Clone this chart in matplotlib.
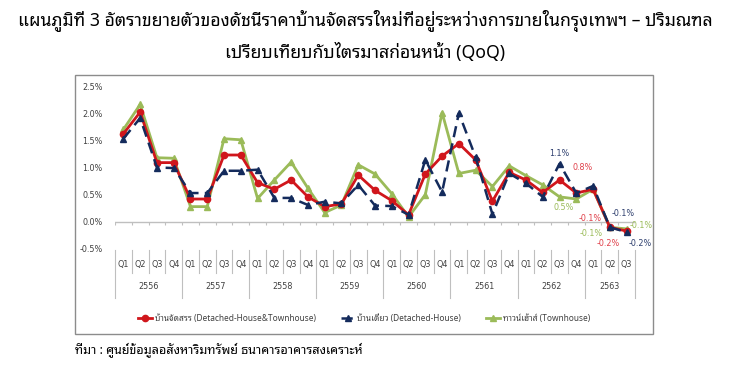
import numpy as np
import matplotlib
matplotlib.use("Agg")
import matplotlib.pyplot as plt
from matplotlib.patches import Rectangle

years = ["2556", "2557", "2558", "2559", "2560", "2561", "2562", "2563"]
quarters = ["Q1", "Q2", "Q3", "Q4"] * 7 + ["Q1", "Q2", "Q3"]

# growth QoQ (%)
all_homes = [1.62, 2.02, 1.09, 1.09, 0.42, 0.42, 1.23, 1.23, 0.72, 0.60,
             0.77, 0.46, 0.28, 0.33, 0.86, 0.58, 0.39, 0.13, 0.88, 1.21,
             1.44, 1.14, 0.38, 0.91, 0.77, 0.54, 0.77, 0.53, 0.60, -0.10, -0.17]
detached = [1.53, 1.91, 1.00, 0.99, 0.53, 0.53, 0.94, 0.94, 0.96, 0.44,
            0.44, 0.31, 0.37, 0.34, 0.68, 0.30, 0.29, 0.13, 1.14, 0.55,
            2.00, 1.19, 0.14, 0.89, 0.71, 0.46, 1.07, 0.53, 0.66, -0.10, -0.19]
townhouse = [1.70, 2.16, 1.18, 1.17, 0.28, 0.28, 1.53, 1.51, 0.43, 0.77,
             1.10, 0.62, 0.17, 0.31, 1.05, 0.88, 0.52, 0.09, 0.50, 2.01,
             0.89, 0.95, 0.65, 1.03, 0.85, 0.68, 0.46, 0.42, 0.60, -0.10, -0.13]

names = ["บ้านจัดสรร (Detached-House&Townhouse)",
         "บ้านเดี่ยว (Detached-House)",
         "ทาวน์เฮ้าส์ (Townhouse)"]
title = ("แผนภูมิที่ 3 อัตราขยายตัวของดัชนีราคาบ้านจัดสรรใหม่ที่อยู่ระหว่างการขายในกรุงเทพฯ – ปริมณฑล\n"
         "เปรียบเทียบกับไตรมาสก่อนหน้า (QoQ)")
source = "ที่มา : ศูนย์ข้อมูลอสังหาริมทรัพย์ ธนาคารอาคารสงเคราะห์"

# data labels: (series, quarter index, text)
point_labels = [(1, 26, "1.1%"), (0, 26, "0.8%"), (2, 26, "0.5%"),
                (0, 29, "-0.1%"), (2, 29, "-0.1%"), (1, 29, "-0.1%"),
                (0, 30, "-0.2%"), (2, 30, "-0.1%"), (1, 30, "-0.2%")]
label_offsets = [(0, 10), (23, 12), (4, -11),
                 (-20, 9), (-19, -6), (13, 14),
                 (-18, -12), (15, 3), (14, -11)]

red, navy, green = "#D0161C", "#142B5C", "#9BBB59"
label_colors = ["#E0404A", "#2E3F6E", "#9BBB59"]

plt.rcParams["font.family"] = ["Noto Sans Thai Looped", "Noto Sans Thai", "DejaVu Sans"]

fig = plt.figure(figsize=(7.3, 3.73), dpi=100)
W, H = 730, 373

fig.text(0.5, 1 - 36 / H, title, ha="center", va="center", fontsize=12.7,
         fontweight="bold", linespacing=1.7)

fig.patches.append(Rectangle((75 / W, 1 - 334 / H), 578 / W, 259 / H,
                             transform=fig.transFigure, fill=False,
                             edgecolor="#8C8C8C", linewidth=1))

ax = fig.add_axes([115 / W, 1 - 249 / H, 520 / W, 163 / H])
x = np.arange(len(quarters))
series = [all_homes, detached, townhouse]

ax.plot(x, all_homes, color=red, lw=2, marker="o", ms=4.5, label=names[0], zorder=3)
ax.plot(x, detached, color=navy, lw=1.8, ls=(0, (4.5, 2.5)), marker="^", ms=4.5,
        label=names[1], zorder=4)
ax.plot(x, townhouse, color=green, lw=2, marker="^", ms=4, label=names[2], zorder=2)

for (s, i, txt), (dx, dy) in zip(point_labels, label_offsets):
    ax.annotate(txt, (x[i], series[s][i]), xytext=(dx, dy),
                textcoords="offset pixels", ha="center", va="center",
                fontsize=5.8, color=label_colors[s], family="DejaVu Sans")

ax.set_xlim(-0.5, len(quarters) - 0.5)
ax.set_ylim(-0.5, 2.5)
ax.set_yticks(np.arange(-0.5, 2.51, 0.5))
ax.set_yticklabels([f"{v:.1f}%" for v in np.arange(-0.5, 2.51, 0.5)],
                   fontsize=5.8, color="#404040", family="DejaVu Sans")
ax.tick_params(axis="y", length=0, pad=9)
ax.set_xticks([])
for sp in ax.spines.values():
    sp.set_visible(False)

# zero line with category ticks
ax.axhline(0, color="#BFBFBF", lw=1, zorder=1)
bounds = np.arange(-0.5, len(quarters), 1.0)
ax.vlines(bounds, -0.05, 0, color="#BFBFBF", lw=0.8, zorder=1)

# two-level category labels under the plot
tr = ax.get_xaxis_transform()
for i, q in enumerate(quarters):
    ax.text(x[i], -0.098, q, transform=tr, ha="center", va="center",
            fontsize=5.8, color="#404040", family="DejaVu Sans")
for b in bounds:
    long_sep = (b + 0.5) % 4 == 0 or b == bounds[-1]
    ax.plot([b, b], [-0.006, -0.30 if long_sep else -0.147], transform=tr,
            color="#BFBFBF", lw=0.8, clip_on=False)
for k, yr in enumerate(years):
    start = 4 * k
    end = min(4 * k + 3, len(quarters) - 1)
    ax.text((start + end) / 2, -0.233, yr, transform=tr, ha="center",
            va="center", fontsize=5.8, color="#404040", family="DejaVu Sans")

fig.legend(loc="center", bbox_to_anchor=(364 / W, 1 - 318 / H), ncol=3,
           frameon=False, fontsize=6, handlelength=1.7, columnspacing=3.0,
           handletextpad=0.3, labelcolor="#404040")

fig.text(75 / W, 1 - 350 / H, source, ha="left", va="center", fontsize=9)

fig.savefig("out.png", dpi=100)
